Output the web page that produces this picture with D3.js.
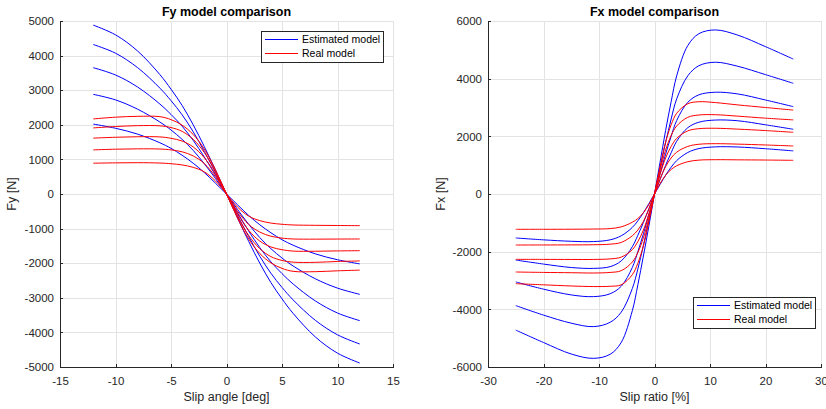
<!DOCTYPE html>
<html>
<head>
<meta charset="utf-8">
<script src="https://cdn.jsdelivr.net/npm/d3@7"></script>
<style>
  body { margin: 0; background: #fff; }
  svg { font-family: "Liberation Sans", Arial, Helvetica, sans-serif; }
  .grid line { stroke: #e3e3e3; stroke-width: 1; shape-rendering: crispEdges; }
  .axis path, .axis line { stroke: #262626; shape-rendering: crispEdges; }
  .axis text { fill: #262626; font-size: 11.5px; }
  .est { fill: none; stroke: #0000ff; stroke-width: 1; }
  .real { fill: none; stroke: #ff0000; stroke-width: 1; }
</style>
</head>
<body>
<svg id="fig" width="826" height="409"></svg>
<script>
// ---- Fy panel: slip angle [deg] vs lateral force [N]
var fyAngles = [-12, -10, -8, -6, -5, -4, -3, -2, -1, 0, 1, 2, 3, 4, 5, 6, 8, 10, 12];

var fyEstimated = [
  [4880, 4600, 4130, 3450, 3030, 2560, 2000, 1370, 700, 0, -700, -1370, -2000, -2560, -3030, -3450, -4130, -4600, -4885],
  [4320, 4070, 3650, 3060, 2700, 2290, 1800, 1230, 630, 0, -630, -1230, -1800, -2290, -2700, -3060, -3650, -4070, -4335],
  [3650, 3440, 3090, 2600, 2300, 1960, 1550, 1070, 545, 0, -545, -1070, -1550, -1960, -2300, -2600, -3090, -3440, -3660],
  [2880, 2720, 2450, 2080, 1850, 1580, 1260, 875, 450, 0, -450, -875, -1260, -1580, -1850, -2080, -2450, -2720, -2900],
  [2020, 1900, 1730, 1480, 1320, 1120, 890, 620, 315, 0, -315, -620, -890, -1120, -1320, -1480, -1730, -1900, -2020]
];

var fyReal = [
  [2170, 2220, 2245, 2235, 2150, 1990, 1720, 1300, 700, 0, -700, -1300, -1720, -1990, -2150, -2235, -2245, -2220, -2200],
  [1910, 1950, 1975, 1970, 1920, 1810, 1580, 1200, 650, 0, -650, -1200, -1580, -1810, -1920, -1970, -1975, -1950, -1935],
  [1615, 1640, 1655, 1650, 1610, 1530, 1360, 1050, 580, 0, -580, -1050, -1360, -1530, -1610, -1650, -1655, -1645, -1638],
  [1275, 1295, 1305, 1300, 1275, 1220, 1100, 880, 500, 0, -500, -880, -1100, -1220, -1275, -1300, -1305, -1302, -1300],
  [890, 900, 905, 895, 875, 840, 770, 640, 380, 0, -380, -640, -770, -840, -875, -895, -905, -910, -915]
];

// ---- Fx panel: slip ratio [%] vs longitudinal force [N]
var fxRatios = [-25, -20, -15, -11, -8, -6, -4, -3, -2, -1, 0, 1, 2, 3, 4, 6, 8, 11, 15, 20, 25];

var fxEstimated = [
  [-4720, -5150, -5550, -5700, -5560, -5150, -4050, -3150, -2150, -1100, 0, 1100, 2200, 3200, 4100, 5150, 5560, 5690, 5510, 5110, 4680],
  [-3870, -4200, -4480, -4600, -4450, -4100, -3280, -2600, -1780, -900, 0, 900, 1780, 2600, 3300, 4100, 4450, 4570, 4430, 4140, 3840],
  [-3050, -3300, -3500, -3560, -3460, -3200, -2550, -2000, -1380, -700, 0, 700, 1380, 2000, 2550, 3180, 3440, 3530, 3470, 3260, 3030],
  [-2290, -2430, -2550, -2580, -2520, -2320, -1830, -1430, -990, -500, 0, 500, 990, 1430, 1830, 2300, 2490, 2565, 2540, 2400, 2245],
  [-1525, -1590, -1640, -1650, -1590, -1450, -1160, -930, -650, -330, 0, 330, 650, 930, 1160, 1440, 1575, 1635, 1630, 1570, 1495]
];

var fxReal = [
  [-3110, -3150, -3190, -3210, -3200, -3150, -2800, -2400, -1800, -950, 0, 950, 1800, 2400, 2800, 3130, 3200, 3170, 3090, 3000, 2910],
  [-2705, -2720, -2730, -2740, -2720, -2660, -2360, -2030, -1520, -820, 0, 820, 1520, 2030, 2360, 2660, 2740, 2750, 2700, 2630, 2570],
  [-2266, -2268, -2270, -2270, -2250, -2190, -1930, -1650, -1250, -680, 0, 680, 1250, 1650, 1930, 2190, 2265, 2280, 2250, 2200, 2140],
  [-1769, -1768, -1765, -1760, -1740, -1680, -1450, -1250, -950, -520, 0, 520, 950, 1250, 1450, 1650, 1725, 1745, 1730, 1700, 1665],
  [-1225, -1224, -1222, -1215, -1200, -1140, -980, -850, -650, -360, 0, 360, 650, 850, 980, 1120, 1175, 1190, 1185, 1178, 1168]
];

// ticks
var fyXTicks = [-15, -10, -5, 0, 5, 10, 15];
var fyYTicks = [-5000, -4000, -3000, -2000, -1000, 0, 1000, 2000, 3000, 4000, 5000];
var fxXTicks = [-30, -20, -10, 0, 10, 20, 30];
var fxYTicks = [-6000, -4000, -2000, 0, 2000, 4000, 6000];

var legendNames = ["Estimated model", "Real model"];
var legendColors = ["#0000ff", "#ff0000"];

function plain(d){ return String(d); }

function buildPanel(opts){
  var svg = d3.select('#fig');
  var g = svg.append("g");

  var x = d3.scaleLinear().domain(opts.xDomain).range([opts.left, opts.right]);
  var y = d3.scaleLinear().domain(opts.yDomain).range([opts.bottom, opts.top]);

  // grid
  var grid = g.append("g").attr("class", "grid");
  grid.selectAll(".gx").data(opts.xTicks).enter().append("line")
      .attr("x1", function(d){ return Math.round(x(d)) + 0.5; })
      .attr("x2", function(d){ return Math.round(x(d)) + 0.5; })
      .attr("y1", opts.top).attr("y2", opts.bottom);
  grid.selectAll(".gy").data(opts.yTicks).enter().append("line")
      .attr("y1", function(d){ return Math.round(y(d)) + 0.5; })
      .attr("y2", function(d){ return Math.round(y(d)) + 0.5; })
      .attr("x1", opts.left).attr("x2", opts.right);

  var line = d3.line()
      .x(function(d){ return x(d[0]); })
      .y(function(d){ return y(d[1]); })
      .curve(d3.curveCatmullRom);

  // estimated (blue) then real (red) on top
  opts.est.forEach(function(vals){
    g.append("path").attr("class", "est")
      .datum(opts.xs.map(function(v, i){ return [v, vals[i]]; }))
      .attr("d", line);
  });
  opts.real.forEach(function(vals){
    g.append("path").attr("class", "real")
      .datum(opts.xs.map(function(v, i){ return [v, vals[i]]; }))
      .attr("d", line);
  });

  // axes, ticks pointing inward like matlab
  g.append("g")
      .attr("class", "axis")
      .attr("transform", "translate(0," + opts.bottom + ")")
      .call(d3.axisBottom(x).tickValues(opts.xTicks).tickFormat(plain)
        .tickSizeInner(-3).tickSizeOuter(0).tickPadding(10));

  g.append("g")
      .attr("class", "axis")
      .attr("transform", "translate(" + opts.left + ",0)")
      .call(d3.axisLeft(y).tickValues(opts.yTicks).tickFormat(plain)
        .tickSizeInner(-3).tickSizeOuter(0).tickPadding(6));

  // title and labels
  var cx = (opts.left + opts.right) / 2;
  g.append("text")
      .attr("x", cx).attr("y", 16)
      .attr("text-anchor", "middle")
      .style("font-size", "12.5px").style("font-weight", "bold").style("fill", "#000")
      .text(opts.title);

  g.append("text")
      .attr("x", cx).attr("y", 401)
      .attr("text-anchor", "middle")
      .style("font-size", "12.5px").style("fill", "#262626")
      .text(opts.xLabel);

  g.append("text")
      .attr("transform", "translate(" + opts.yLabelX + "," + ((opts.top + opts.bottom) / 2) + ") rotate(-90)")
      .attr("text-anchor", "middle")
      .style("font-size", "12.5px").style("fill", "#262626")
      .text(opts.yLabel);

  // legend
  var lg = g.append("g").attr("transform", "translate(" + opts.legend[0] + "," + opts.legend[1] + ")");
  lg.append("rect")
      .attr("x", 0.5).attr("y", 0.5).attr("width", 122).attr("height", 31)
      .style("fill", "#fff").style("stroke", "#262626").style("stroke-width", 1);
  legendNames.forEach(function(name, i){
    var ly = 8.5 + i * 14;
    lg.append("line")
      .attr("x1", 4).attr("x2", 37).attr("y1", ly).attr("y2", ly)
      .style("stroke", legendColors[i]).style("stroke-width", 1);
    lg.append("text")
      .attr("x", 41).attr("y", ly).attr("dy", "0.35em")
      .style("font-size", "10.5px").style("fill", "#000")
      .text(name);
  });
}

buildPanel({
  xs: fyAngles, est: fyEstimated, real: fyReal,
  xDomain: [-15, 15], yDomain: [-5000, 5000],
  xTicks: fyXTicks, yTicks: fyYTicks,
  left: 60, right: 393, top: 21, bottom: 367,
  title: "Fy model comparison", xLabel: "Slip angle [deg]", yLabel: "Fy [N]",
  yLabelX: 16, legend: [261, 31]
});

buildPanel({
  xs: fxRatios, est: fxEstimated, real: fxReal,
  xDomain: [-30, 30], yDomain: [-6000, 6000],
  xTicks: fxXTicks, yTicks: fxYTicks,
  left: 488, right: 821, top: 21, bottom: 367,
  title: "Fx model comparison", xLabel: "Slip ratio [%]", yLabel: "Fx [N]",
  yLabelX: 445, legend: [693, 297]
});
</script>
</body>
</html>
